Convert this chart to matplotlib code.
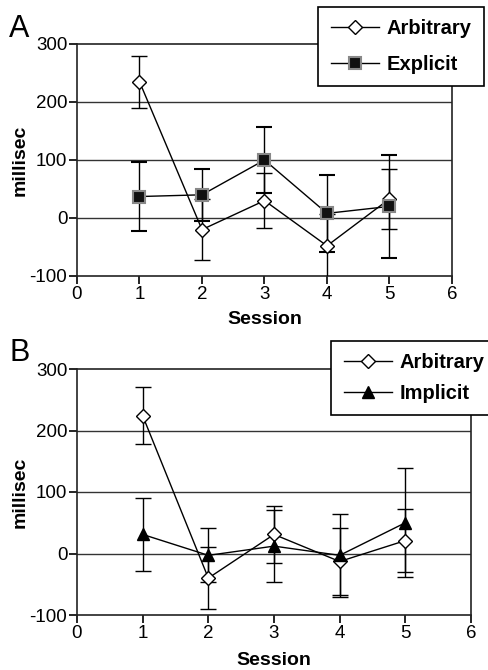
import numpy as np
import matplotlib.pyplot as plt
from matplotlib.lines import Line2D

plt.rcParams['font.family'] = ['Liberation Sans', 'DejaVu Sans']
plt.rcParams['axes.unicode_minus'] = False

sessions = [1, 2, 3, 4, 5]

# panel A
arb_a = [235, -20, 30, -48, 33]
arb_a_err = [45, 52, 48, 55, 52]
exp_a = [37, 40, 100, 8, 20]
exp_a_err = [59, 45, 57, 67, 89]

# panel B
arb_b = [224, -40, 31, -13, 21]
arb_b_err = [46, 51, 47, 54, 51]
imp_b = [31, -3, 12, -3, 50]
imp_b_err = [60, 44, 58, 67, 89]

W, H = 489, 670
fig = plt.figure(figsize=(W / 100, H / 100), dpi=100)

arb_style = dict(marker='D', ms=7, mfc='white', mec='black', mew=1.0)
exp_style = dict(marker='s', ms=8, mfc='#111111', mec='#888888', mew=1.5)
imp_style = dict(marker='^', ms=9, mfc='black', mec='black')


def style_axes(ax, xpad):
    ax.set_xlim(0, 6)
    ax.set_ylim(-100, 300)
    ax.set_xticks(range(0, 7))
    ax.set_yticks([-100, 0, 100, 200, 300])
    for y in [0, 100, 200]:
        ax.axhline(y, color='#333333', lw=1.0, zorder=1)
    for s in ax.spines.values():
        s.set_linewidth(1.2)
        s.set_color('#222222')
    ax.tick_params(direction='out', length=6, width=1.2, labelsize=13.5, pad=1)
    ax.set_xlabel('Session', fontsize=14, fontweight='bold', labelpad=xpad)
    ax.set_ylabel('millisec', fontsize=14, fontweight='bold', labelpad=1)


def series(ax, y, err, style):
    ax.errorbar(sessions, y, yerr=err, color='black', lw=1.0, elinewidth=1.0,
                capsize=6, capthick=1.0, zorder=3, **style)


def legend(ax, styles, labels, anchor, spacing):
    handles = [Line2D([], [], color='black', lw=1.0, **st) for st in styles]
    leg = ax.legend(handles, labels, loc='upper right', bbox_to_anchor=anchor,
                    bbox_transform=fig.transFigure, fancybox=False,
                    edgecolor='black', framealpha=1, handlelength=2.4,
                    handletextpad=0.4, borderaxespad=0, borderpad=0.6,
                    labelspacing=spacing,
                    prop={'weight': 'bold', 'size': 14.5})
    leg.get_frame().set_linewidth(1.2)


# A
ax1 = fig.add_axes([77 / W, 1 - 276 / H, (452 - 77) / W, 232 / H])
style_axes(ax1, 6)
series(ax1, arb_a, arb_a_err, arb_style)
series(ax1, exp_a, exp_a_err, exp_style)
legend(ax1, [arb_style, exp_style], ['Arbitrary', 'Explicit'],
       (484 / W, 1 - 7 / H), 0.85)
fig.text(9 / W, 1 - 37 / H, 'A', fontsize=22)

# B
ax2 = fig.add_axes([77 / W, 1 - 615 / H, (471 - 77) / W, 246 / H])
style_axes(ax2, 7.5)
series(ax2, arb_b, arb_b_err, arb_style)
series(ax2, imp_b, imp_b_err, imp_style)
legend(ax2, [arb_style, imp_style], ['Arbitrary', 'Implicit'],
       (497 / W, 1 - 341 / H), 0.6)
fig.text(9 / W, 1 - 361 / H, 'B', fontsize=22)

fig.savefig('out.png', dpi=100)
